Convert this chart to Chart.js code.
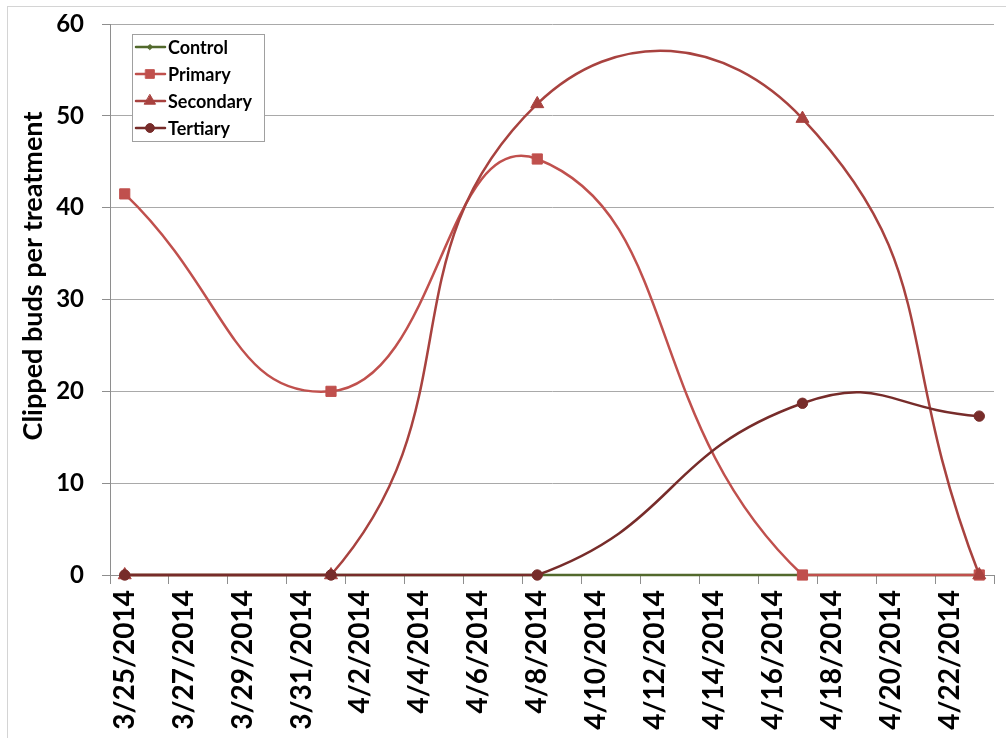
<!DOCTYPE html>
<html>
<head>
<meta charset="utf-8">
<title>Clipped buds per treatment</title>
<script src="https://cdn.jsdelivr.net/npm/chart.js@4.4.1/dist/chart.umd.min.js"></script>
<style>
  html, body { margin: 0; padding: 0; background: #ffffff; }
  #wrap { position: relative; width: 1006px; height: 738px; overflow: hidden; background: #ffffff; }
  #frame { position: absolute; left: 7px; top: 6px; width: 1200px; height: 900px; border: 1px solid #d4d4d4; }
  #c { position: absolute; left: 0; top: 0; }
</style>
</head>
<body>
<div id="wrap">
  <div id="frame"></div>
  <canvas id="c" width="1006" height="738"></canvas>
</div>
<script>
// Daily date axis (one slot per day); every other day is labelled
const axisDates = [
  '3/25/2014', '3/26/2014', '3/27/2014', '3/28/2014', '3/29/2014', '3/30/2014',
  '3/31/2014', '4/1/2014', '4/2/2014', '4/3/2014', '4/4/2014', '4/5/2014',
  '4/6/2014', '4/7/2014', '4/8/2014', '4/9/2014', '4/10/2014', '4/11/2014',
  '4/12/2014', '4/13/2014', '4/14/2014', '4/15/2014', '4/16/2014', '4/17/2014',
  '4/18/2014', '4/19/2014', '4/20/2014', '4/21/2014', '4/22/2014', '4/23/2014'
];

// Survey dates and clipped bud counts per treatment
const sampleDates = ['3/25/2014', '4/1/2014', '4/8/2014', '4/17/2014', '4/23/2014'];
const control   = [0, 0, 0, 0, 0];
const primary   = [41.5, 20, 45.3, 0, 0];
const secondary = [0, 0, 51.3, 49.7, 0];
const tertiary  = [0, 0, 0, 18.7, 17.3];

const seriesNames = ['Control', 'Primary', 'Secondary', 'Tertiary'];
const yTitleText = 'Clipped buds per treatment';

const FONT = 'Lato';
const GRID = '#a9a9a9';
const AXIS = '#8e8e8e';

function points(values) {
  return sampleDates.map((d, i) => ({ x: d, y: values[i] }));
}

function series(label, values, color, style, radius, order) {
  return {
    label: label,
    data: points(values),
    borderColor: color,
    backgroundColor: color,
    pointBackgroundColor: color,
    pointBorderColor: color,
    pointStyle: style,
    pointRadius: radius,
    pointBorderWidth: 1,
    borderWidth: 2.5,
    tension: 0.5,
    clip: false,
    order: order
  };
}

// Boxed legend with line + marker samples, drawn inside the plot area
const boxedLegend = {
  id: 'boxedLegend',
  afterDraw(chart) {
    const ctx = chart.ctx;
    const x = 132, y = 34, w = 132, h = 107, rowH = 27;
    ctx.save();
    ctx.fillStyle = '#ffffff';
    ctx.fillRect(x, y, w, h);
    ctx.strokeStyle = '#a0a0a0';
    ctx.lineWidth = 1;
    ctx.strokeRect(x + 0.5, y + 0.5, w, h);
    chart.data.datasets.forEach((ds, i) => {
      const cy = y + 13 + i * rowH;
      ctx.strokeStyle = ds.borderColor;
      ctx.lineWidth = ds.borderWidth;
      ctx.lineCap = 'round';
      ctx.beginPath();
      ctx.moveTo(x + 4, cy);
      ctx.lineTo(x + 33, cy);
      ctx.stroke();
      ctx.fillStyle = ds.pointBackgroundColor;
      ctx.strokeStyle = ds.pointBorderColor;
      ctx.lineWidth = 1;
      Chart.helpers.drawPoint(ctx, {
        pointStyle: ds.pointStyle,
        radius: ds.pointRadius * 0.85,
        borderWidth: 1,
        rotation: 0
      }, x + 18, cy);
      ctx.fillStyle = '#000000';
      ctx.font = 'bold 18px ' + FONT;
      ctx.textAlign = 'left';
      ctx.textBaseline = 'middle';
      ctx.fillText(ds.label, x + 36, cy + 1);
    });
    ctx.restore();
  }
};

// Vertical axis title
const yTitle = {
  id: 'yTitle',
  afterDraw(chart) {
    const ctx = chart.ctx;
    ctx.save();
    ctx.translate(33, 276);
    ctx.rotate(-Math.PI / 2);
    ctx.font = 'bold 27px ' + FONT;
    ctx.fillStyle = '#000000';
    ctx.textAlign = 'center';
    ctx.textBaseline = 'middle';
    ctx.fillText(yTitleText, 0, 0);
    ctx.restore();
  }
};

function draw() {
  Chart.defaults.font.family = FONT;
  new Chart(document.getElementById('c'), {
    type: 'line',
    data: {
      labels: axisDates,
      datasets: [
        series(seriesNames[0], control,   '#52692c', 'rectRot',  3,   3),
        series(seriesNames[1], primary,   '#c0504d', 'rect',     7.2, 2),
        series(seriesNames[2], secondary, '#a8423f', 'triangle', 7.5, 1),
        series(seriesNames[3], tertiary,  '#772c2a', 'circle',   5.2, 0)
      ]
    },
    options: {
      responsive: false,
      animation: false,
      devicePixelRatio: 1,
      layout: { padding: { top: 24, right: 12, left: 0, bottom: 0 } },
      plugins: { legend: { display: false }, tooltip: { enabled: false } },
      elements: { line: { borderJoinStyle: 'round', borderCapStyle: 'round' } },
      scales: {
        x: {
          type: 'category',
          offset: true,
          grid: {
            offset: true,
            drawOnChartArea: false,
            drawTicks: true,
            tickLength: 9,
            tickWidth: 1,
            tickColor: c => (c.index === undefined || c.index % 2 === 0) ? AXIS : 'rgba(0,0,0,0)'
          },
          border: { color: AXIS, width: 1 },
          ticks: {
            autoSkip: false,
            minRotation: 90,
            maxRotation: 90,
            padding: 6,
            color: '#000000',
            font: { family: FONT, weight: 'bold', size: 28 },
            callback: (v, i) => (i % 2 === 0 ? axisDates[i] : '')
          },
          afterFit: s => { s.height = 163; s.paddingLeft = 0; s.paddingRight = 0; }
        },
        y: {
          min: 0,
          max: 60,
          grid: { color: GRID, tickLength: 8, tickColor: AXIS },
          border: { color: AXIS, width: 1 },
          ticks: {
            stepSize: 10,
            padding: 18,
            color: '#000000',
            font: { family: FONT, weight: 'bold', size: 24 }
          },
          afterFit: s => { s.width = 110; s.paddingTop = 0; s.paddingBottom = 0; }
        }
      }
    },
    plugins: [boxedLegend, yTitle]
  });
}

if (document.fonts && document.fonts.load) {
  Promise.all([
    document.fonts.load('bold 28px Lato'),
    document.fonts.load('bold 18px Lato')
  ]).then(draw, draw);
} else {
  draw();
}
</script>
</body>
</html>
